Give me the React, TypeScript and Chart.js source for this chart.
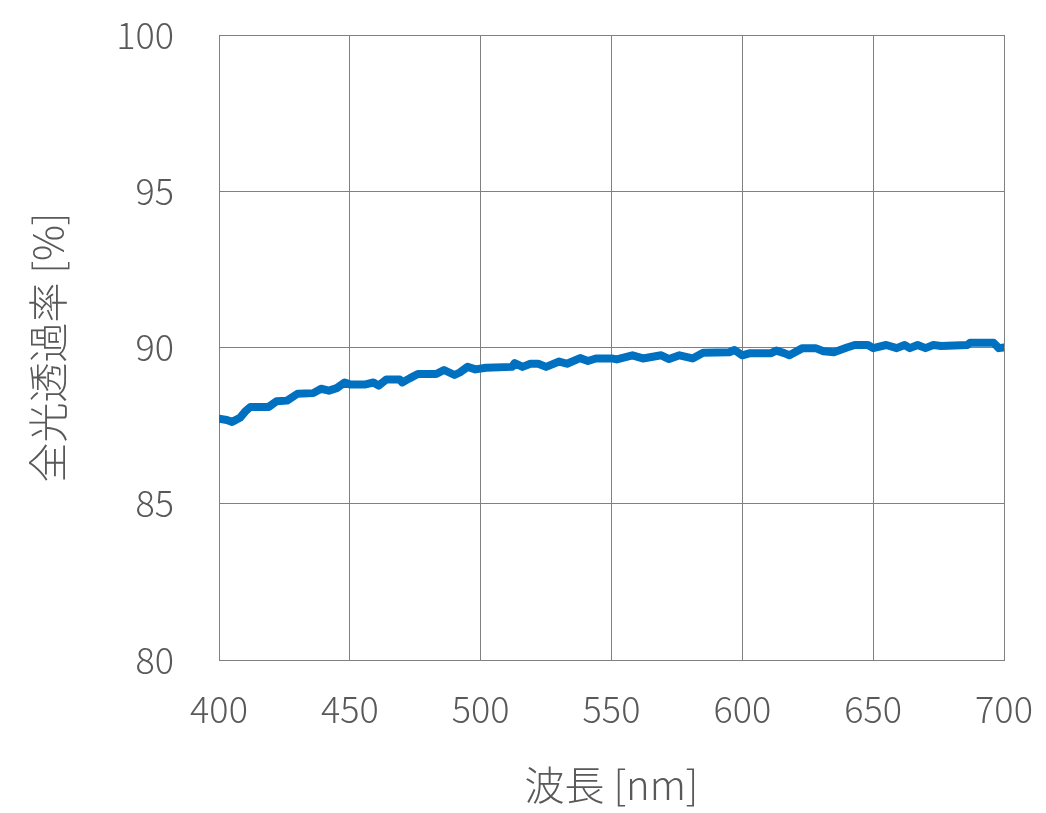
import React, { useEffect, useRef } from "react";
import { Chart, registerables } from "chart.js";

Chart.register(...registerables);

const wavelengths = [
  400, 403, 405, 408, 410, 412, 419, 422, 426, 430, 436, 439, 442, 445, 448, 450,
  456, 459, 461, 464, 469, 470, 473, 476, 483, 486, 490, 492, 495, 498, 502, 512,
  513, 516, 519, 522, 525, 530, 533, 538, 541, 544, 550, 552, 558, 562, 569, 572,
  576, 581, 585, 595, 597, 600, 603, 611, 613, 616, 618, 623, 628, 631, 635, 640,
  643, 648, 650, 655, 659, 662, 664, 667, 670, 673, 676, 686, 687, 696, 698, 700,
];
const transmittance = [
  87.72, 87.68, 87.62, 87.75, 87.95, 88.1, 88.1, 88.28, 88.3, 88.52, 88.54, 88.68, 88.62, 88.7, 88.88, 88.82,
  88.82, 88.88, 88.78, 88.98, 88.98, 88.88, 89.02, 89.15, 89.15, 89.28, 89.12, 89.2, 89.38, 89.3, 89.35, 89.38,
  89.5, 89.38, 89.48, 89.48, 89.38, 89.55, 89.48, 89.66, 89.57, 89.65, 89.65, 89.62, 89.75, 89.65, 89.75, 89.63,
  89.75, 89.65, 89.83, 89.85, 89.92, 89.75, 89.82, 89.82, 89.9, 89.82, 89.75, 89.98, 89.98, 89.88, 89.85, 90.0,
  90.08, 90.08, 89.98, 90.08, 89.98, 90.08, 89.98, 90.08, 89.98, 90.08, 90.05, 90.08, 90.15, 90.15, 89.98, 90.0,
];
const xTicks = [400, 450, 500, 550, 600, 650, 700];
const yTicks = [80, 85, 90, 95, 100];
const xTitle = "波長 [nm]";
const yTitle = "全光透過率 [%]";

const FONT = "'Noto Sans CJK JP', 'Noto Sans', sans-serif";
const TEXT = "#595959";
const GRID = "#808080";
const CLEAR = "rgba(0,0,0,0)";

export default function App() {
  const ref = useRef<HTMLCanvasElement | null>(null);
  useEffect(() => {
    if (!ref.current) return;
    const chart = new Chart(ref.current, {
      type: "line",
      data: {
        datasets: [
          {
            data: wavelengths.map((w, i) => ({ x: w, y: transmittance[i] })),
            borderColor: "#0070C0",
            borderWidth: 8,
            borderCapStyle: "round",
            borderJoinStyle: "round",
            pointRadius: 0,
            tension: 0,
            fill: false,
          },
        ],
      },
      options: {
        responsive: false,
        animation: false,
        layout: { padding: { top: 27, right: 34, left: 0, bottom: 0 } },
        plugins: { legend: { display: false }, tooltip: { enabled: false } },
        scales: {
          x: {
            type: "linear",
            min: 400,
            max: 700,
            afterBuildTicks: (s: any) => {
              s.ticks = xTicks.map((v) => ({ value: v }));
            },
            afterFit: (s: any) => {
              s.height = 153;
            },
            grid: { color: GRID, lineWidth: 1, drawTicks: true, tickLength: 26, tickColor: CLEAR },
            border: { color: GRID, width: 1 },
            ticks: {
              color: TEXT,
              font: { family: FONT, size: 36, weight: "300" },
              padding: 2,
              maxRotation: 0,
            },
            title: {
              display: true,
              text: xTitle,
              color: TEXT,
              font: { family: FONT, size: 40, weight: "300" },
              padding: { top: 0, bottom: 4 },
            },
          },
          y: {
            min: 80,
            max: 100,
            afterBuildTicks: (s: any) => {
              s.ticks = yTicks.map((v) => ({ value: v }));
            },
            afterFit: (s: any) => {
              s.width = 211;
            },
            grid: { color: GRID, lineWidth: 1, drawTicks: true, tickLength: 42, tickColor: CLEAR },
            border: { color: GRID, width: 1 },
            ticks: {
              color: TEXT,
              font: { family: FONT, size: 36, weight: "300" },
              padding: 3,
            },
            title: {
              display: true,
              text: yTitle,
              color: TEXT,
              font: { family: FONT, size: 40, weight: "300" },
              padding: { top: 16, bottom: 0 },
            },
          },
        },
      },
    });
    return () => chart.destroy();
  }, []);
  return (
    <div style={{ width: 1030, height: 805, position: "relative" }}>
      <canvas ref={ref} width={1030} height={805} style={{ display: "block" }} />
    </div>
  );
}
